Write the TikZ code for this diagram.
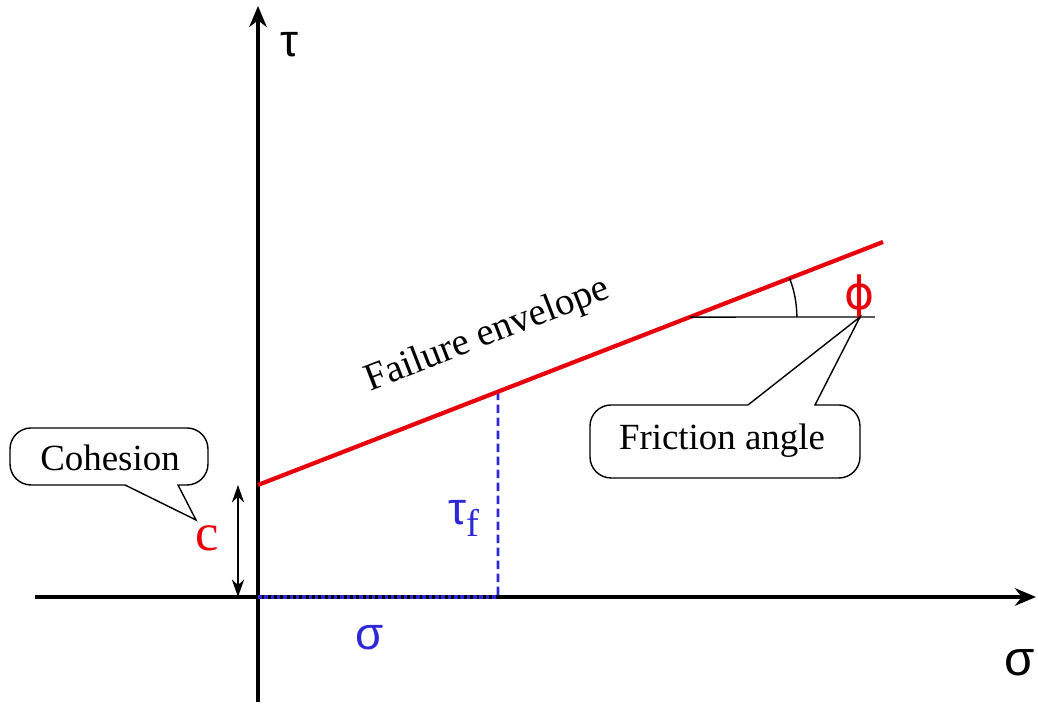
\documentclass[tikz,border=0pt]{standalone}
\usepackage{fontspec}
\setmainfont{Liberation Serif}
\newfontfamily\grk{Liberation Sans}
\newfontfamily\phifont{DejaVu Sans}
\usetikzlibrary{arrows.meta,calc,angles,quotes}
\definecolor{envred}{RGB}{232,0,10}
\definecolor{stressblue}{RGB}{45,40,215}

\begin{document}
\begin{tikzpicture}[>=Stealth,
    axis/.style={line width=0.9pt,-{Stealth[length=6pt,width=5pt]}},
    lbl/.style={font=\fontsize{10.5}{12}\selectfont}]
    \useasboundingbox (0,0) rectangle (10.38,7.08);
    % axes
    \coordinate (O) at (2.58,1.11);
    \coordinate (xl) at (0.35,1.11);
    \coordinate (xr) at (10.36,1.11);
    \coordinate (yb) at (2.58,0.06);
    \coordinate (yt) at (2.58,7.02);
    \draw[axis] (xl)--(xr);
    \draw[axis] (yb)--(yt);
    \node[font=\grk\fontsize{13}{14}\selectfont] (tau) at (2.90,6.63) {τ};
    \node[font=\grk\fontsize{14}{15}\selectfont] (sig) at (10.20,0.45) {σ};
    % failure envelope
    \coordinate (c0) at (2.58,2.23);
    \coordinate (e1) at (8.83,4.66);
    \coordinate (tf) at ($(c0)!0.384!(e1)$);
    \coordinate (sf) at (4.98,1.11);
    \draw[stressblue,thick,dash pattern=on 2.4pt off 1.3pt] (tf)--(sf);
    \draw[stressblue,line width=1pt,dash pattern=on 1pt off 0.8pt] (O)--(sf);
    \draw[envred,line width=1.2pt] (c0)--node[black,font=\fontsize{11}{12}\selectfont,sloped,above=7pt,pos=0.40]{Failure envelope}(e1);
    \node[stressblue,font=\grk\fontsize{13}{14}\selectfont,anchor=east] (taf) at (4.92,1.90) {τ\raisebox{-0.5ex}{\rmfamily\fontsize{11}{12}\selectfont f}};
    \node[stressblue,font=\grk\fontsize{13}{14}\selectfont] (sig2) at (3.70,0.70) {σ};
    % cohesion
    \coordinate (ct) at (2.38,2.23);
    \coordinate (cb) at (2.38,1.11);
    \draw[thin,{Stealth[length=5pt,width=3.5pt]}-{Stealth[length=5pt,width=3.5pt]}] (ct)--(cb);
    \node[envred,font=\fontsize{15}{16}\selectfont] (c) at (2.07,1.70) {c};
    \node[lbl] (coh) at (1.10,2.50) {Cohesion};
    \coordinate (ctip) at (1.96,1.88);
    \draw[thin] (1.25,2.23) [rounded corners=6pt] -- (0.10,2.23) -- (0.10,2.80) -- (2.08,2.80) -- (2.08,2.23) [sharp corners] -- (1.78,2.23) -- (ctip) -- (1.25,2.23);
    % friction angle
    \coordinate (ip) at ($(c0)!0.691!(e1)$);
    \coordinate (hr) at (8.75,3.91);
    \draw[thin] (ip)--(hr);
    \pic[draw,thin,angle radius=1.07cm] {angle=hr--ip--e1};
    \node[envred,font=\phifont\fontsize{13}{14}\selectfont] (phi) at (8.60,4.11) {ϕ};
    \coordinate (ftip) at (8.60,3.91);
    \node[lbl] (fric) at (7.22,2.67) {Friction angle};
    \draw[thin] (7.48,3.03) [rounded corners=6pt] -- (5.90,3.03) -- (5.90,2.30) -- (8.60,2.30) -- (8.60,3.03) [sharp corners] -- (8.15,3.03) -- (ftip) -- (7.48,3.03);
\end{tikzpicture}
\end{document}
